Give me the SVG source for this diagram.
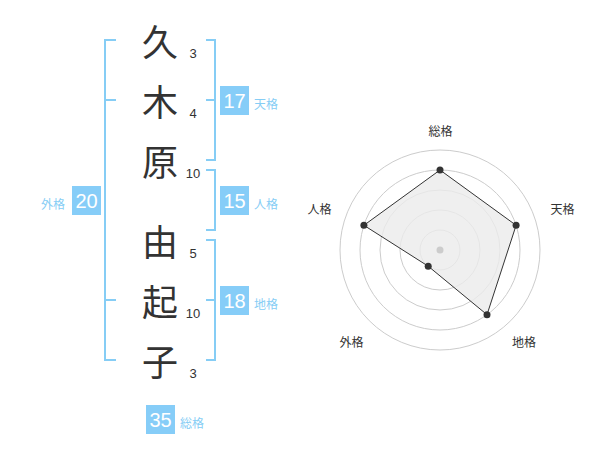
<svg xmlns="http://www.w3.org/2000/svg" width="600" height="470" viewBox="0 0 600 470">
<style>
.ch{font-family:"Noto Sans CJK JP","Noto Sans CJK SC",sans-serif;font-size:36px;fill:#333;text-anchor:middle;dominant-baseline:central}
.num{font-family:"Liberation Sans",Arial,sans-serif;font-size:13px;fill:#333;text-anchor:middle;dominant-baseline:central}
.br{fill:none;stroke:#86cdf5;stroke-width:2}
.box{fill:#86cdf8}
.bn{font-family:"Liberation Sans",Arial,sans-serif;font-size:20px;fill:#fff;text-anchor:middle;dominant-baseline:central}
.bl{font-family:"Noto Sans CJK JP","Noto Sans CJK SC",sans-serif;font-size:12px;fill:#86cdf5;dominant-baseline:central}
.rl{font-family:"Noto Sans CJK JP","Noto Sans CJK SC",sans-serif;font-size:12px;fill:#333;text-anchor:middle;dominant-baseline:central}
.ring{fill:none;stroke:#ccc;stroke-width:1}
.pt{fill:#333}
</style>
<rect width="600" height="470" fill="#fff"/>
<g id="chars">
<text class="ch" x="160" y="40">久</text>
<text class="ch" x="160" y="100">木</text>
<text class="ch" x="160" y="160">原</text>
<text class="ch" x="160" y="240">由</text>
<text class="ch" x="160" y="300">起</text>
<text class="ch" x="160" y="360">子</text>
</g>
<g id="strokes">
<text class="num" x="193" y="53">3</text>
<text class="num" x="193" y="113">4</text>
<text class="num" x="193" y="173">10</text>
<text class="num" x="193" y="253">5</text>
<text class="num" x="193" y="313">10</text>
<text class="num" x="193" y="373">3</text>
</g>
<g id="connectors">
<path class="br" d="M116,40 H105 V360 H116 M105,100 H116 M105,300 H116"/>
<path class="br" d="M206,40 H215 V160 H206 M206,100 H215"/>
<path class="br" d="M206,170 H215 V230 H206"/>
<path class="br" d="M206,240 H215 V360 H206 M206,300 H215"/>
</g>
<g id="gaikaku">
<rect class="box" x="72" y="186" width="29" height="29"/>
<text class="bn" x="86.5" y="200.5">20</text>
<text class="bl" x="41" y="203">外格</text>
</g>
<g id="tenkaku">
<rect class="box" x="220" y="86" width="29" height="29"/>
<text class="bn" x="234.5" y="100.5">17</text>
<text class="bl" x="254" y="103">天格</text>
</g>
<g id="jinkaku">
<rect class="box" x="220" y="186" width="29" height="29"/>
<text class="bn" x="234.5" y="200.5">15</text>
<text class="bl" x="254" y="203">人格</text>
</g>
<g id="chikaku">
<rect class="box" x="220" y="286" width="29" height="29"/>
<text class="bn" x="234.5" y="300.5">18</text>
<text class="bl" x="254" y="303">地格</text>
</g>
<g id="soukaku">
<rect class="box" x="146" y="405" width="29" height="29"/>
<text class="bn" x="160.5" y="419.5">35</text>
<text class="bl" x="180" y="422">総格</text>
</g>
<g id="radar">
<circle class="ring" cx="440" cy="250" r="20"/>
<circle class="ring" cx="440" cy="250" r="40"/>
<circle class="ring" cx="440" cy="250" r="60"/>
<circle class="ring" cx="440" cy="250" r="80"/>
<circle class="ring" cx="440" cy="250" r="100"/>
<polygon points="440,170 516.1,225.3 487,314.7 428.2,266.2 363.9,225.3" fill="#ebebeb" fill-opacity="0.8" stroke="#333" stroke-width="1"/>
<circle cx="440" cy="250" r="3.5" fill="#ccc"/>
<circle class="pt" cx="440" cy="170" r="3.5"/>
<circle class="pt" cx="516.1" cy="225.3" r="3.5"/>
<circle class="pt" cx="487" cy="314.7" r="3.5"/>
<circle class="pt" cx="428.2" cy="266.2" r="3.5"/>
<circle class="pt" cx="363.9" cy="225.3" r="3.5"/>
<text class="rl" x="440.5" y="130">総格</text>
<text class="rl" x="562.5" y="208">天格</text>
<text class="rl" x="524" y="341">地格</text>
<text class="rl" x="351.5" y="341">外格</text>
<text class="rl" x="319.5" y="208">人格</text>
</g>
</svg>
